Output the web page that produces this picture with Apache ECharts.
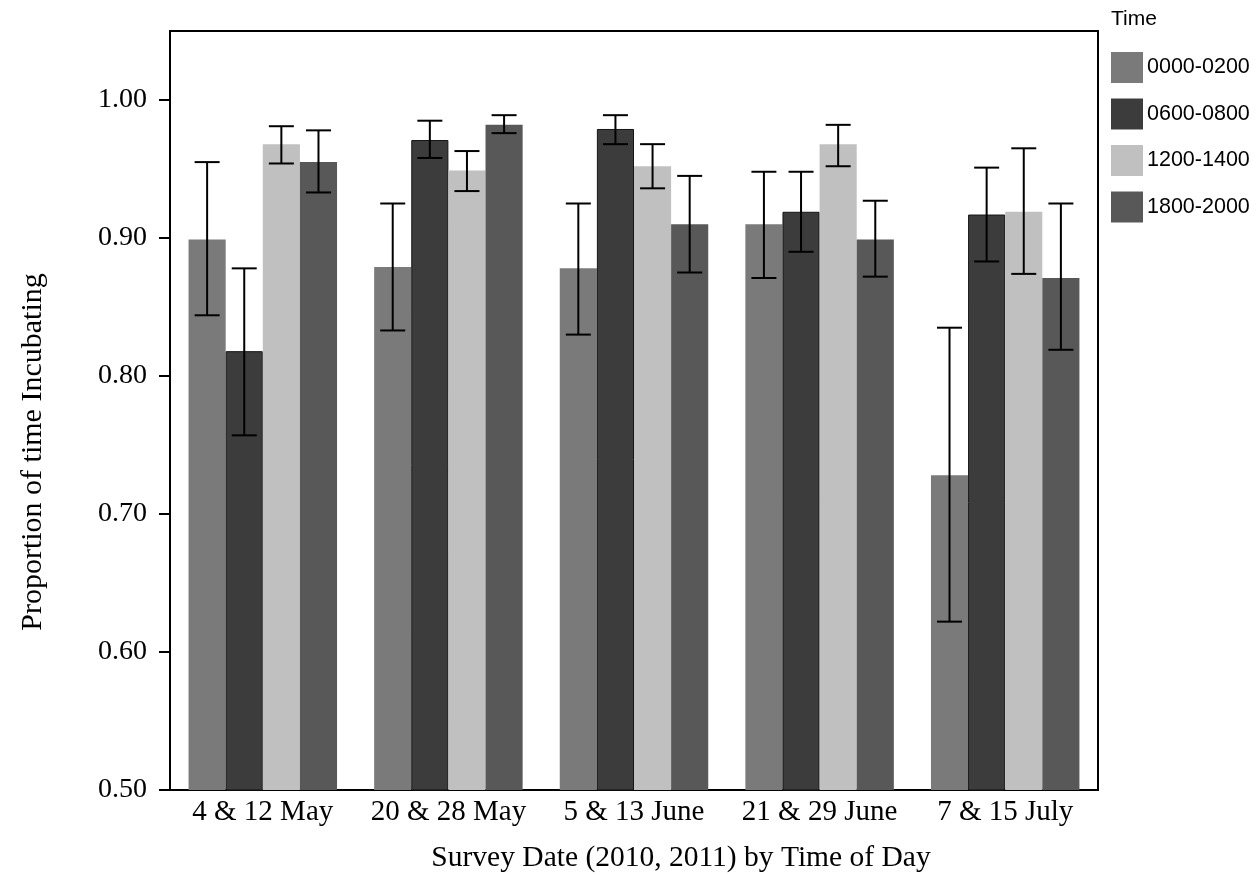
<!DOCTYPE html>
<html>
<head>
<meta charset="utf-8">
<title>Proportion of time incubating</title>
<script src="https://cdn.jsdelivr.net/npm/echarts@6/dist/echarts.min.js"></script>
<style>
  html, body { margin: 0; padding: 0; background: #ffffff; }
  #chart { width: 1260px; height: 875px; }
</style>
</head>
<body>
<div id="chart"></div>
<script>
// Survey periods (pairs of dates from 2010 and 2011)
const categories = ['4 & 12 May', '20 & 28 May', '5 & 13 June', '21 & 29 June', '7 & 15 July'];
// Time-of-day windows
const timeSlots = ['0000-0200', '0600-0800', '1200-1400', '1800-2000'];

// Mean proportion of time incubating, one array per time window
const mean0000 = [0.899, 0.879, 0.878, 0.910, 0.728];
const mean0600 = [0.818, 0.971, 0.979, 0.919, 0.917];
const mean1200 = [0.968, 0.949, 0.952, 0.968, 0.919];
const mean1800 = [0.955, 0.982, 0.910, 0.899, 0.871];

// Error bar ends
const upper0000 = [0.955, 0.925, 0.925, 0.948, 0.835];
const upper0600 = [0.878, 0.985, 0.989, 0.948, 0.951];
const upper1200 = [0.981, 0.963, 0.968, 0.982, 0.965];
const upper1800 = [0.978, 0.989, 0.945, 0.927, 0.925];

const lower0000 = [0.844, 0.833, 0.830, 0.871, 0.622];
const lower0600 = [0.757, 0.958, 0.968, 0.890, 0.883];
const lower1200 = [0.954, 0.934, 0.936, 0.952, 0.874];
const lower1800 = [0.933, 0.976, 0.875, 0.872, 0.819];

// Y axis range and step
const yMin = 0.5;
const yMax = 1.05;
const yStep = 0.1;

const means = [mean0000, mean0600, mean1200, mean1800];
const uppers = [upper0000, upper0600, upper1200, upper1800];
const lowers = [lower0000, lower0600, lower1200, lower1800];
const barColors = ['#7a7a7a', '#3c3c3c', '#c0c0c0', '#585858'];

const CATEGORY_GAP = 0.2; // fraction of band left empty around each group

const serif = '"Liberation Serif", "Times New Roman", serif';
const sans = '"Liberation Sans", Arial, sans-serif';

// [categoryIndex, low, high, slotIndex] rows for the error bars
const errorRows = [];
timeSlots.forEach((slot, s) => {
  categories.forEach((cat, c) => {
    errorRows.push([c, lowers[s][c], uppers[s][c], s]);
  });
});

function renderErrorBar(params, api) {
  const c = api.value(0);
  const lo = api.value(1);
  const hi = api.value(2);
  const s = api.value(3);
  const band = api.size([1, 0])[0];
  const barW = band * (1 - CATEGORY_GAP) / timeSlots.length;
  const pLo = api.coord([c, lo]);
  const pHi = api.coord([c, hi]);
  const x = pLo[0] - band * (1 - CATEGORY_GAP) / 2 + (s + 0.5) * barW;
  const half = 12.5;
  const style = { stroke: '#000000', lineWidth: 2 };
  return {
    type: 'group',
    children: [
      { type: 'line', shape: { x1: x, y1: pHi[1], x2: x, y2: pLo[1] }, style: style },
      { type: 'line', shape: { x1: x - half, y1: pHi[1], x2: x + half, y2: pHi[1] }, style: style },
      { type: 'line', shape: { x1: x - half, y1: pLo[1], x2: x + half, y2: pLo[1] }, style: style }
    ]
  };
}

const barSeries = timeSlots.map((slot, s) => ({
  name: slot,
  type: 'bar',
  data: means[s],
  barGap: '0%',
  barCategoryGap: (CATEGORY_GAP * 100) + '%',
  itemStyle: s === 1
    ? { color: barColors[s], borderColor: '#151515', borderWidth: 1 }
    : { color: barColors[s] },
  emphasis: { disabled: true },
  z: 2
}));

const chart = echarts.init(document.getElementById('chart'), null, { renderer: 'canvas' });

chart.setOption({
  animation: false,
  backgroundColor: '#ffffff',
  grid: {
    left: 170,
    right: 162,
    top: 31,
    bottom: 85,
    show: true,
    borderColor: '#000000',
    borderWidth: 2,
    backgroundColor: 'transparent'
  },
  legend: {
    data: timeSlots,
    orient: 'vertical',
    left: 1111,
    top: 52,
    padding: 0,
    itemWidth: 32,
    itemHeight: 31,
    itemGap: 15.5,
    icon: 'rect',
    itemStyle: { borderWidth: 0 },
    textStyle: { fontFamily: sans, fontSize: 21.5, color: '#000000', padding: [0, 0, 0, -1] },
    selectedMode: false
  },
  graphic: [
    {
      type: 'text',
      left: 1111,
      top: 9,
      style: { text: 'Time', fontFamily: sans, fontSize: 21, fill: '#000000' }
    },
    {
      type: 'text',
      x: 681,
      y: 858,
      style: {
        text: 'Survey Date (2010, 2011) by Time of Day',
        fontFamily: serif, fontSize: 29.5, fill: '#000000',
        align: 'center', verticalAlign: 'middle'
      }
    },
    {
      type: 'text',
      x: 33,
      y: 452,
      rotation: Math.PI / 2,
      style: {
        text: 'Proportion of time Incubating',
        fontFamily: serif, fontSize: 30, fill: '#000000',
        align: 'center', verticalAlign: 'middle'
      }
    }
  ],
  xAxis: {
    type: 'category',
    data: categories,
    axisLine: { show: true, lineStyle: { color: '#000000', width: 2 } },
    axisTick: { show: false },
    axisLabel: { interval: 0, fontFamily: serif, fontSize: 29, color: '#000000', margin: 8 },
    splitLine: { show: false }
  },
  yAxis: {
    type: 'value',
    min: yMin,
    max: yMax,
    interval: yStep,
    axisLine: { show: true, lineStyle: { color: '#000000', width: 2 } },
    axisTick: { show: true, inside: false, length: 11, lineStyle: { color: '#000000', width: 2 } },
    axisLabel: {
      fontFamily: serif, fontSize: 28, color: '#000000', margin: 23,
      showMaxLabel: false,
      formatter: v => v.toFixed(2)
    },
    splitLine: { show: false }
  },
  series: barSeries.concat([{
    name: 'error',
    type: 'custom',
    renderItem: renderErrorBar,
    data: errorRows,
    encode: { x: 0, y: [1, 2] },
    z: 5,
    silent: true
  }])
});
</script>
</body>
</html>
